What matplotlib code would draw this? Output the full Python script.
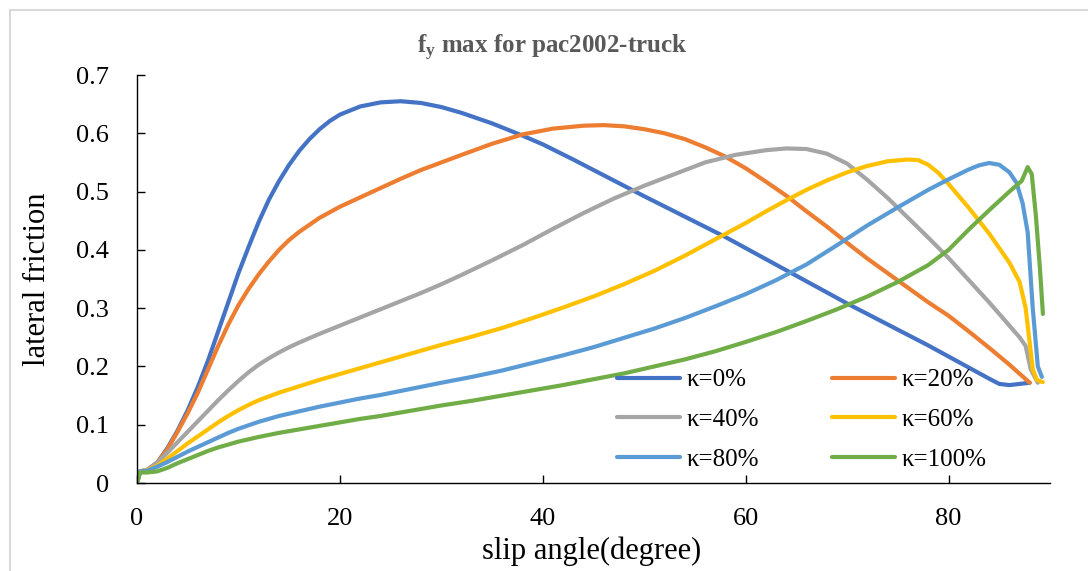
import matplotlib
matplotlib.use('Agg')
import matplotlib.pyplot as plt
from matplotlib.patches import Rectangle

plt.rcParams['font.family'] = ['Liberation Serif', 'DejaVu Serif']
plt.rcParams['mathtext.fontset'] = 'custom'
plt.rcParams['mathtext.rm'] = 'Liberation Serif'
plt.rcParams['mathtext.bf'] = 'Liberation Serif:bold'
plt.rcParams['mathtext.it'] = 'Liberation Serif:italic'

# data (slip angle in degree, lateral friction)
x0 = [0, 0.3, 1, 2, 3, 4, 5, 6, 7, 8, 9, 10, 11, 12, 13, 14, 15, 16, 17, 18, 19, 20,
      22, 24, 26, 28, 30, 32, 35, 38, 40, 43, 46, 50, 54, 58, 62, 66, 70, 74, 78, 82,
      84, 85, 86, 87, 88]
y0 = [0, 0.02, 0.022, 0.035, 0.06, 0.09, 0.125, 0.165, 0.21, 0.26, 0.31, 0.36, 0.405,
      0.448, 0.486, 0.518, 0.546, 0.57, 0.59, 0.607, 0.621, 0.632, 0.646, 0.653, 0.655,
      0.652, 0.645, 0.635, 0.617, 0.596, 0.581, 0.555, 0.528, 0.492, 0.457, 0.422,
      0.384, 0.346, 0.308, 0.272, 0.236, 0.198, 0.179, 0.17, 0.168, 0.17, 0.172]

x20 = [0, 0.3, 1, 2, 3, 4, 5, 6, 7, 8, 9, 10, 11, 12, 13, 14, 15, 16, 18, 20, 22, 24,
       26, 28, 30, 32, 35, 38, 41, 44, 46, 48, 50, 52, 54, 56, 58, 60, 62, 64, 66, 68,
       70, 72, 74, 76, 78, 80, 82, 84, 86, 88]
y20 = [0, 0.02, 0.022, 0.035, 0.058, 0.088, 0.12, 0.155, 0.195, 0.235, 0.272, 0.305,
       0.333, 0.358, 0.38, 0.4, 0.417, 0.431, 0.455, 0.474, 0.49, 0.506, 0.522, 0.537,
       0.55, 0.563, 0.582, 0.598, 0.608, 0.613, 0.614, 0.612, 0.607, 0.6, 0.59, 0.576,
       0.56, 0.54, 0.517, 0.493, 0.466, 0.44, 0.412, 0.385, 0.36, 0.335, 0.31, 0.287,
       0.26, 0.232, 0.203, 0.172]

x40 = [0, 0.3, 1, 2, 3, 4, 5, 6, 7, 8, 9, 10, 11, 12, 13, 14, 15, 16, 18, 20, 22, 24,
       26, 28, 30, 32, 35, 38, 41, 44, 47, 50, 53, 56, 59, 62, 64, 66, 68, 70, 72, 74,
       76, 78, 80, 82, 84, 86, 87, 87.6, 88.1, 88.8]
y40 = [0, 0.02, 0.023, 0.035, 0.052, 0.07, 0.088, 0.106, 0.124, 0.142, 0.159, 0.175,
       0.19, 0.203, 0.214, 0.224, 0.233, 0.241, 0.256, 0.27, 0.284, 0.298, 0.312, 0.326,
       0.341, 0.357, 0.382, 0.408, 0.436, 0.463, 0.488, 0.51, 0.53, 0.55, 0.563, 0.571,
       0.574, 0.573, 0.565, 0.548, 0.52, 0.489, 0.455, 0.421, 0.386, 0.348, 0.31, 0.27,
       0.25, 0.235, 0.195, 0.172]

x60 = [0, 0.3, 1, 2, 3, 4, 5, 6, 7, 8, 9, 10, 11, 12, 14, 16, 18, 20, 22, 24, 26, 28,
       30, 33, 36, 39, 42, 45, 48, 51, 54, 57, 60, 62, 64, 66, 68, 70, 72, 74, 76, 77,
       78, 79, 80, 82, 84, 86, 87, 87.6, 88, 88.3, 88.7, 89.3]
y60 = [0, 0.02, 0.022, 0.03, 0.042, 0.055, 0.068, 0.08, 0.092, 0.104, 0.115, 0.125,
       0.134, 0.142, 0.155, 0.166, 0.177, 0.187, 0.197, 0.207, 0.217, 0.227, 0.237,
       0.251, 0.266, 0.283, 0.301, 0.32, 0.341, 0.364, 0.39, 0.418, 0.446, 0.466,
       0.485, 0.503, 0.519, 0.533, 0.544, 0.552, 0.555, 0.554, 0.546, 0.532, 0.513,
       0.472, 0.428, 0.378, 0.345, 0.3, 0.24, 0.195, 0.177, 0.173]

x80 = [0, 0.3, 1, 2, 3, 4, 5, 6, 7, 8, 9, 10, 12, 14, 16, 18, 20, 22, 24, 26, 28, 30,
       33, 36, 39, 42, 45, 48, 51, 54, 57, 60, 63, 66, 69, 72, 75, 78, 80, 82, 83, 84,
       85, 86, 86.7, 87.3, 87.8, 88.3, 88.8, 89.2]
y80 = [0, 0.02, 0.021, 0.028, 0.036, 0.045, 0.054, 0.062, 0.07, 0.078, 0.086, 0.093,
       0.105, 0.115, 0.123, 0.131, 0.138, 0.145, 0.151, 0.158, 0.165, 0.172, 0.182,
       0.193, 0.206, 0.219, 0.233, 0.249, 0.265, 0.283, 0.303, 0.324, 0.348, 0.375,
       0.408, 0.442, 0.473, 0.503, 0.521, 0.538, 0.545, 0.549, 0.546, 0.533, 0.515,
       0.48, 0.43, 0.3, 0.2, 0.182]

x100 = [0, 0.3, 1, 2, 3, 4, 5, 6, 7, 8, 9, 10, 12, 14, 16, 18, 20, 22, 24, 26, 28, 30,
        33, 36, 39, 42, 45, 48, 51, 54, 57, 60, 63, 66, 69, 72, 75, 78, 80, 82, 84, 86,
        87.2, 87.8, 88.2, 88.6, 89, 89.3]
y100 = [0, 0.018, 0.018, 0.02, 0.026, 0.034, 0.041, 0.048, 0.055, 0.061, 0.066, 0.071,
        0.079, 0.086, 0.092, 0.098, 0.104, 0.11, 0.115, 0.121, 0.127, 0.133, 0.141,
        0.15, 0.159, 0.168, 0.178, 0.188, 0.2, 0.212, 0.226, 0.242, 0.259, 0.278,
        0.298, 0.32, 0.345, 0.374, 0.4, 0.435, 0.468, 0.5, 0.518, 0.542, 0.53, 0.46,
        0.37, 0.29]

labels = ['κ=0%', 'κ=20%', 'κ=40%', 'κ=60%', 'κ=80%', 'κ=100%']
colors = ['#4472C4', '#ED7D31', '#A5A5A5', '#FFC000', '#5B9BD5', '#70AD47']
series = [(x0, y0), (x20, y20), (x40, y40), (x60, y60), (x80, y80), (x100, y100)]

fig = plt.figure(figsize=(10.88, 5.71), dpi=100)
fig.patches.append(Rectangle((10 / 1088, -0.1), 1.2, 1 - 10 / 571 + 0.1,
                             transform=fig.transFigure, fill=False,
                             edgecolor='#d9d9d9', linewidth=1.5))
ax = fig.add_axes([137 / 1088, 88 / 571, 913 / 1088, 408 / 571])

lines = []
for (xs, ys), lab, c in zip(series, labels, colors):
    ln, = ax.plot(xs, ys, color=c, lw=3, label=lab, solid_capstyle='round',
                  solid_joinstyle='round')
    lines.append(ln)

ax.set_xlim(0, 90)
ax.set_ylim(0, 0.7)
ax.set_xticks([0, 20, 40, 60, 80])
ax.set_yticks([0, 0.1, 0.2, 0.3, 0.4, 0.5, 0.6, 0.7])
ax.set_yticklabels(['0', '0.1', '0.2', '0.3', '0.4', '0.5', '0.6', '0.7'])
ax.tick_params(direction='in', length=6, width=1, labelsize=19)
ax.tick_params(axis='x', pad=18)
ax.tick_params(axis='y', pad=20)
for s in ['top', 'right']:
    ax.spines[s].set_visible(False)
for s in ['left', 'bottom']:
    ax.spines[s].set_linewidth(1)

ax.set_xlabel('slip angle(degree)', fontsize=22)
ax.xaxis.set_label_coords(0.498, -0.13)
ax.set_ylabel('lateral friction', fontsize=22)
ax.yaxis.set_label_coords(-0.093, 0.5)

fig.text(552 / 1088, 1 - 48 / 571, r'$\mathbf{f_y}$ max for pac2002-truck',
         ha='center', va='center', fontsize=18, fontweight='bold', color='#595959')

# row-wise order like the original legend
order = [0, 2, 4, 1, 3, 5]
ax.legend([lines[i] for i in order], [labels[i] for i in order],
          ncol=2, loc='upper left', bbox_to_anchor=(617 / 1088, 1 - 369 / 571),
          bbox_transform=fig.transFigure, frameon=False, fontsize=18,
          handlelength=2.5, handletextpad=0.3, columnspacing=2.9,
          labelspacing=0.68, borderpad=0, borderaxespad=0)

fig.savefig('out.png', dpi=100)
